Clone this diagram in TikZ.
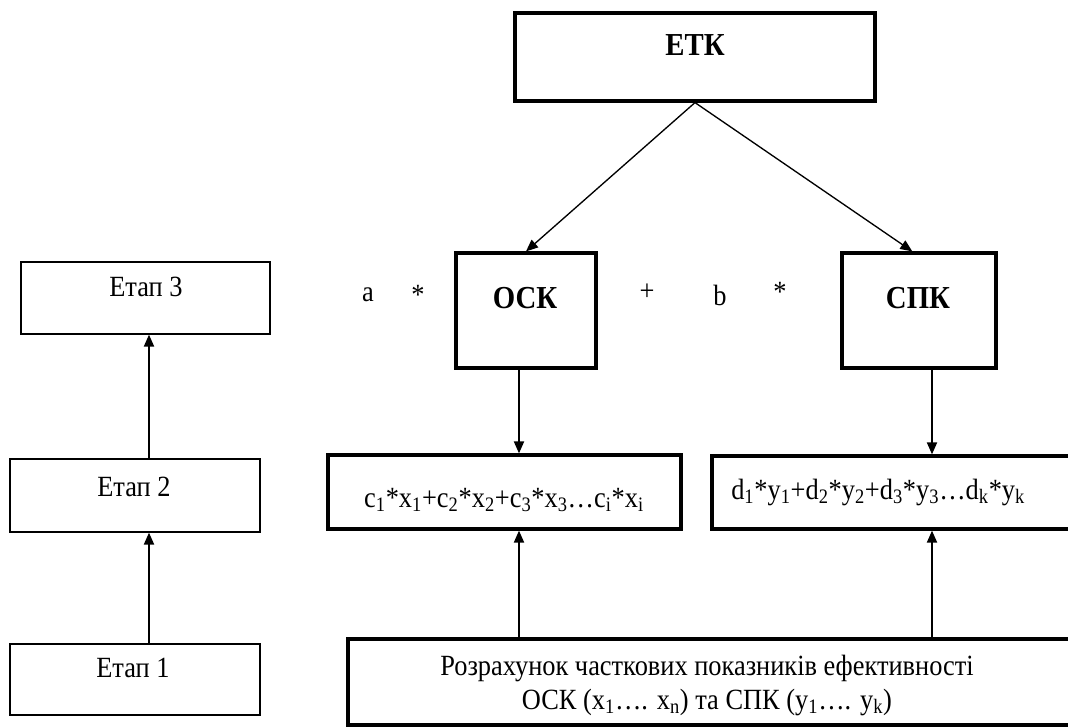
\documentclass[tikz,border=0pt]{standalone}
\usepackage{fontspec}
\setmainfont{Liberation Serif}[FakeStretch=0.9]
\usepackage{tikz}
\usetikzlibrary{arrows.meta, positioning}
\tikzstyle{stagebox}=[draw=black,line width=0.9pt,inner sep=0pt]
\tikzstyle{mainbox}=[draw=black,line width=2.4pt,inner sep=0pt]
\tikzstyle{txt}=[inner sep=0pt,font=\fontsize{22}{25.5}\selectfont]
\tikzstyle{btxt}=[inner sep=0pt,font=\fontsize{24}{26}\selectfont\bfseries]
\tikzstyle{mainedge}=[-{Triangle[length=9pt,width=7.5pt]},line width=1.4pt]

\begin{document}
\begin{tikzpicture}[x=0.75pt,y=-0.75pt]
\useasboundingbox (0,0) rectangle (1068,727);
\clip (0,0) rectangle (1068,727);

% stages on the left
\node[stagebox,minimum width=186.75pt,minimum height=54pt] (e3) at (145.5,298){};
\node[stagebox,minimum width=187.5pt,minimum height=54.75pt] (e2) at (135,495.5){};
\node[stagebox,minimum width=187.5pt,minimum height=53.25pt] (e1) at (135,679.5){};
\node[txt] (e3t) at (146,287){Етап 3};
\node[txt] (e2t) at (134,487){Етап 2};
\node[txt] (e1t) at (133,668){Етап 1};
\coordinate (stem) at (149,0);
\draw[mainedge] (e1.north -| stem) -- (e2.south -| stem);
\draw[mainedge] (e2.north -| stem) -- (e3.south -| stem);

% main scheme
\node[mainbox,minimum width=270pt,minimum height=66pt] (etk) at (695,57){};
\node[btxt] (etkt) at (695,45){ЕТК};

\node[mainbox,minimum width=105pt,minimum height=86.25pt] (osk) at (526,310.5){};
\node[btxt] (oskt) at (525,298){ОСК};
\node[mainbox,minimum width=115.5pt,minimum height=86.25pt] (spk) at (919,310.5){};
\node[btxt] (spkt) at (918,298){СПК};

\node[txt] (a) at (368,295){a};
\node[txt] (m1) at (418,295){*};
\node[txt] (plus) at (647,292){+};
\node[txt] (b) at (720,295){b};
\node[txt] (m2) at (780,292){*};

\node[mainbox,minimum width=264.75pt,minimum height=55.5pt] (csum) at (504.5,492){};
\node[txt] (csumt) at (504,500){c\textsubscript{1}*x\textsubscript{1}+c\textsubscript{2}*x\textsubscript{2}+c\textsubscript{3}*x\textsubscript{3}…c\textsubscript{i}*x\textsubscript{i}};
\node[mainbox,minimum width=283.5pt,minimum height=54.75pt] (dsum) at (901,492.5){};
\node[txt,anchor=west] (dsumt) at (731,492){d\textsubscript{1}*y\textsubscript{1}+d\textsubscript{2}*y\textsubscript{2}+d\textsubscript{3}*y\textsubscript{3}…d\textsubscript{k}*y\textsubscript{k}};

\node[mainbox,minimum width=556.5pt,minimum height=64.5pt] (calc) at (719,682){};
\node[txt,align=center] (calct) at (707,685){Розрахунок часткових показників ефективності\\ОСК (x\textsubscript{1}…. x\textsubscript{n}) та СПК (y\textsubscript{1}…. y\textsubscript{k})};

\coordinate (lx) at (519,0);
\coordinate (rx) at (932,0);
\draw[mainedge,line width=1pt] (etk.south) -- (osk.north);
\draw[mainedge,line width=1pt] (etk.south) -- ([xshift=-5pt]spk.north);
\draw[mainedge] (osk.south -| lx) -- (csum.north -| lx);
\draw[mainedge] (spk.south -| rx) -- (dsum.north -| rx);
\draw[mainedge] (calc.north -| lx) -- (csum.south -| lx);
\draw[mainedge] (calc.north -| rx) -- (dsum.south -| rx);

\end{tikzpicture}
\end{document}
